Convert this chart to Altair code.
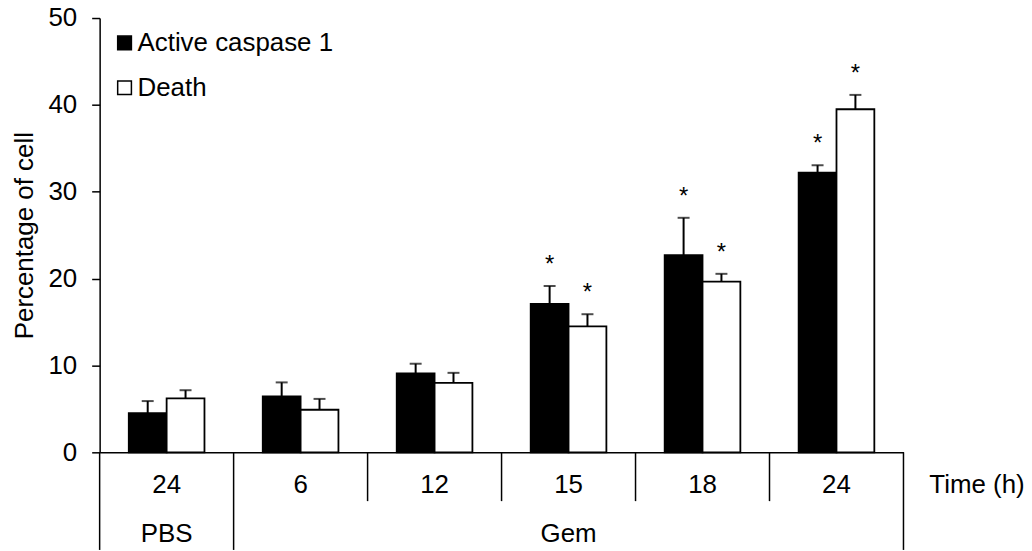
import altair as alt
import pandas as pd

FONT = "Liberation Sans"
FS = 26

# ---- data ----
groups = ["PBS", "Gem", "Gem", "Gem", "Gem", "Gem"]
times = ["24", "6", "12", "15", "18", "24"]
series = ["Active caspase 1", "Death"]
caspase = [4.5, 6.45, 9.1, 17.1, 22.7, 32.2]
caspase_err = [1.4, 1.6, 1.1, 2.05, 4.3, 0.85]
death = [6.2, 4.9, 8.0, 14.5, 19.65, 39.5]
death_err = [0.95, 1.25, 1.15, 1.4, 0.9, 1.65]
caspase_sig = [False, False, False, True, True, True]
death_sig = [False, False, False, True, True, True]
y_ticks = [0, 10, 20, 30, 40, 50]
x_title = "Time (h)"
y_title = "Percentage of cell"

# ---- tables built from the arrays ----
cats = [f"{g} {t}" for g, t in zip(groups, times)]
rows = []
for i, c in enumerate(cats):
    rows.append(dict(cat=c, series=series[0], value=caspase[i], err=caspase_err[i], sig=caspase_sig[i]))
    rows.append(dict(cat=c, series=series[1], value=death[i], err=death_err[i], sig=death_sig[i]))
df = pd.DataFrame(rows)
df["top"] = df["value"] + df["err"]

cat_df = pd.DataFrame({"cat": cats, "time": times})

grp_rows = []
for g in dict.fromkeys(groups):
    idx = [i for i, x in enumerate(groups) if x == g]
    grp_rows.append(dict(cat=cats[idx[len(idx) // 2]], label=g))
grp_df = pd.DataFrame(grp_rows)

sep_rows = []
for i, c in enumerate(cats):
    is_long = i == 0 or groups[i] != groups[i - 1]
    sep_rows.append(dict(cat=c, kind="long" if is_long else "short"))
sep_df = pd.DataFrame(sep_rows)
end_df = pd.DataFrame({"cat": [cats[-1]]})
title_df = pd.DataFrame({"label": [x_title]})

# ---- layout ----
W, H = 807, 436
xs = alt.Scale(domain=cats, paddingInner=0, paddingOuter=0)
ys = alt.Scale(domain=[0, 50], nice=False)
off_scale = alt.Scale(domain=series, paddingInner=0, paddingOuter=0.77)

x_axis = alt.Axis(labels=False, ticks=False, title=None, grid=False,
                  domainColor="black", domainWidth=1.5)
y_axis = alt.Axis(values=y_ticks, grid=False, tickSize=8, tickColor="black", tickWidth=1.5,
                  domainColor="black", domainWidth=1.5, labelFontSize=FS, labelFont=FONT,
                  labelColor="black", labelPadding=15, title=y_title, titleFontSize=FS,
                  titleFont=FONT, titleFontWeight="normal", titleColor="black", titlePadding=10)

X = alt.X("cat:N", scale=xs, axis=x_axis)
XO = alt.XOffset("series:N", scale=off_scale)

bars = alt.Chart(df).mark_bar(stroke="black", strokeWidth=1.8).encode(
    x=X,
    xOffset=XO,
    y=alt.Y("value:Q", scale=ys, axis=y_axis),
    fill=alt.Fill("series:N", scale=alt.Scale(domain=series, range=["black", "white"]),
                  legend=alt.Legend(title=None, orient="none", legendX=12, legendY=12,
                                    symbolType="square", symbolSize=190,
                                    symbolStrokeColor="black", symbolStrokeWidth=1.5,
                                    labelFontSize=FS, labelFont=FONT, labelColor="black",
                                    labelLimit=0, rowPadding=19, padding=0, labelOffset=0)),
)

stems = alt.Chart(df).mark_rule(color="black", strokeWidth=2).encode(
    x=X, xOffset=XO, y=alt.Y("value:Q", scale=ys), y2="top:Q")

caps = alt.Chart(df).mark_tick(color="black", thickness=2, size=12, orient="horizontal").encode(
    x=X, xOffset=XO, y=alt.Y("top:Q", scale=ys))

stars = alt.Chart(df).transform_filter("datum.sig").mark_text(
    text="*", font=FONT, fontSize=24, color="black", baseline="alphabetic", dy=-14).encode(
    x=X, xOffset=XO, y=alt.Y("top:Q", scale=ys))

time_labels = alt.Chart(cat_df).mark_text(
    font=FONT, fontSize=FS, color="black", baseline="middle").encode(
    x=X, y=alt.value(469), text="time:N")

group_labels = alt.Chart(grp_df).mark_text(
    font=FONT, fontSize=FS, color="black", baseline="middle").encode(
    x=X, y=alt.value(518), text="label:N")

short_sep = alt.Chart(sep_df).transform_filter("datum.kind == 'short'").mark_rule(
    color="black", strokeWidth=1.5).encode(
    x=alt.X("cat:N", scale=xs, bandPosition=0), y=alt.value(436), y2=alt.value(485))

long_sep = alt.Chart(sep_df).transform_filter("datum.kind == 'long'").mark_rule(
    color="black", strokeWidth=1.5).encode(
    x=alt.X("cat:N", scale=xs, bandPosition=0), y=alt.value(436), y2=alt.value(534))

end_sep = alt.Chart(end_df).mark_rule(color="black", strokeWidth=1.5).encode(
    x=alt.X("cat:N", scale=xs, bandPosition=1), y=alt.value(436), y2=alt.value(534))

x_title_mark = alt.Chart(title_df).mark_text(
    font=FONT, fontSize=FS, color="black", baseline="middle", align="left").encode(
    x=alt.value(833), y=alt.value(469), text="label:N")

chart = alt.layer(
    bars, stems, caps, stars, time_labels, group_labels,
    short_sep, long_sep, end_sep, x_title_mark
).properties(
    width=W, height=H,
    autosize=alt.AutoSizeParams(type="none"),
    padding={"left": 92, "top": 9, "right": 121, "bottom": 98},
    background="white",
).configure_view(stroke=None)

chart.save("out.html", embed_options={"renderer": "svg", "actions": False})
